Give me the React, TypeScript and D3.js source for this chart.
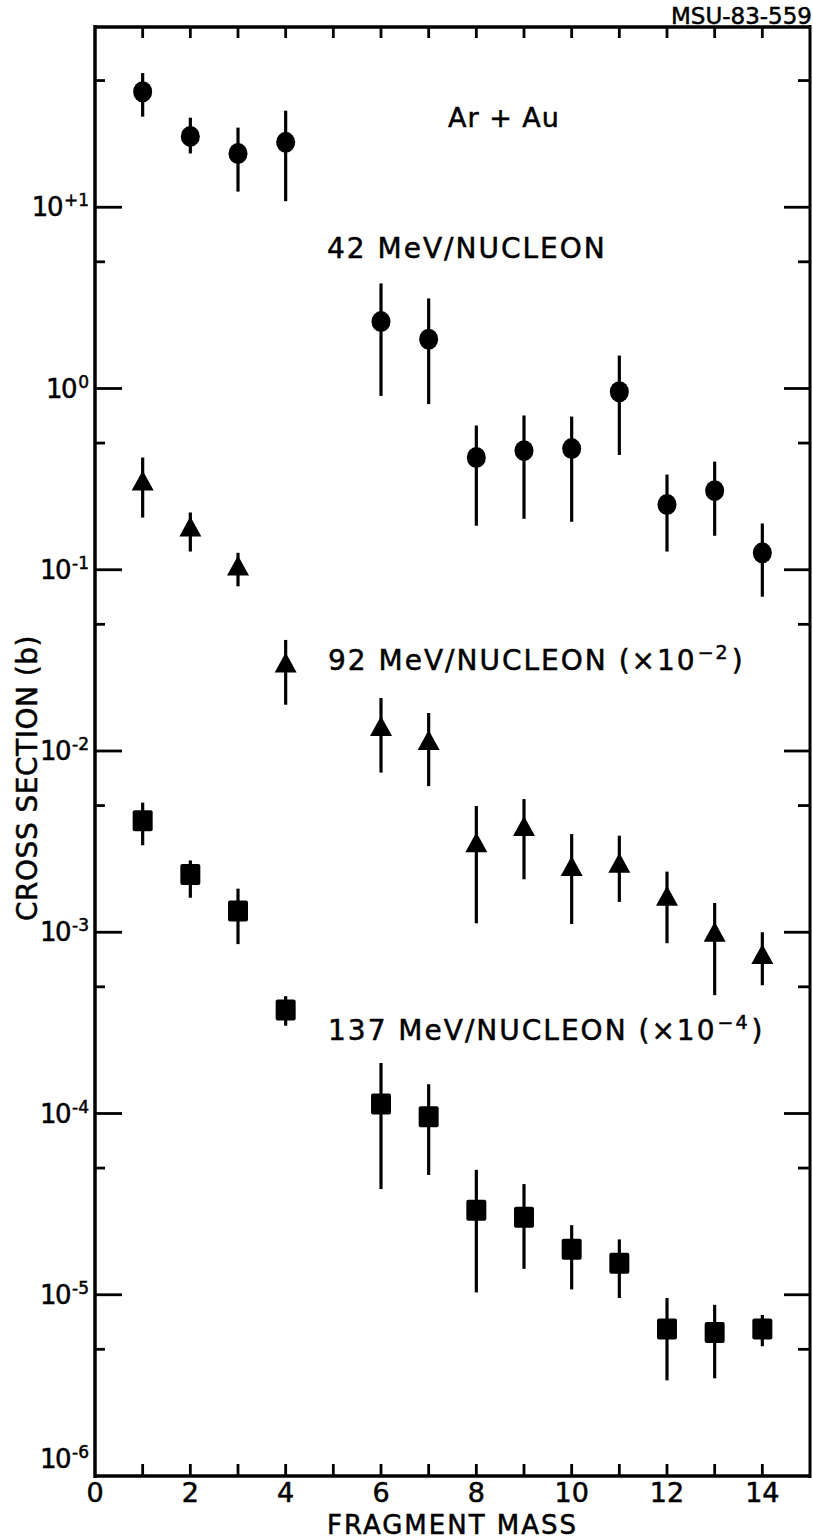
import React from "react";
import * as d3 from "d3";

// fragment masses measured (no point at mass 5)
const masses = [1, 2, 3, 4, 6, 7, 8, 9, 10, 11, 12, 13, 14];

// 42 MeV/nucleon, circles (barns)
const sigma42 = [43.4, 24.6, 19.8, 22.8, 2.34, 1.87, 0.416, 0.454, 0.466, 0.96, 0.229, 0.273, 0.124];
const sigma42Hi = [55, 31.2, 27.5, 34.1, 3.8, 3.14, 0.625, 0.71, 0.7, 1.52, 0.335, 0.395, 0.18];
const sigma42Lo = [31.6, 19.8, 12.2, 10.8, 0.91, 0.82, 0.175, 0.191, 0.184, 0.43, 0.126, 0.154, 0.071];

// 92 MeV/nucleon (x10^-2), triangles
const sigma92 = [0.303, 0.169, 0.103, 0.03, 0.0134, 0.0112, 0.00306, 0.00376, 0.00226, 0.00236, 0.00155, 0.00098, 0.00074];
const sigma92Hi = [0.416, 0.207, 0.124, 0.041, 0.0196, 0.0162, 0.00497, 0.00543, 0.00348, 0.00341, 0.00216, 0.00145, 0.001];
const sigma92Lo = [0.194, 0.126, 0.081, 0.018, 0.0076, 0.0064, 0.00112, 0.00196, 0.00111, 0.00147, 0.00087, 0.00045, 0.00051];

// 137 MeV/nucleon (x10^-4), squares
const sigma137 = [0.00412, 0.00208, 0.00131, 0.000372, 1.13e-4, 9.6e-5, 2.93e-5, 2.68e-5, 1.78e-5, 1.49e-5, 6.47e-6, 6.2e-6, 6.47e-6];
const sigma137Hi = [0.00519, 0.00249, 0.00174, 0.000444, 1.9e-4, 1.45e-4, 4.89e-5, 4.08e-5, 2.42e-5, 2.02e-5, 9.6e-6, 8.8e-6, 7.74e-6];
const sigma137Lo = [0.00302, 0.00155, 0.00086, 0.000305, 3.83e-5, 4.58e-5, 1.03e-5, 1.39e-5, 1.07e-5, 9.6e-6, 3.37e-6, 3.46e-6, 5.2e-6];

// axis ticks
const xTickLabels = [0, 2, 4, 6, 8, 10, 12, 14];
const xMinorTicks = [1, 2, 3, 4, 5, 6, 7, 8, 9, 10, 11, 12, 13, 14];
const yExponents = [1, 0, -1, -2, -3, -4, -5, -6];
const yExpLabels = ["+1", "0", "-1", "-2", "-3", "-4", "-5", "-6"];

const W = 813, H = 1540;
const left = 95, right = 810, top = 27, bottom = 1476;
const font = "'DejaVu Sans', sans-serif";

export default function App() {
  const x = d3.scaleLinear().domain([0, 15]).range([left, right]);
  const y = d3.scaleLog().domain([1e-6, 1e2]).range([bottom, 26]);

  const majors = yExponents.map(e => Math.pow(10, e));
  const minors = d3.range(-6, 2).map(e => 5 * Math.pow(10, e));

  const series = [
    { kind: "circle", v: sigma42, hi: sigma42Hi, lo: sigma42Lo },
    { kind: "triangle", v: sigma92, hi: sigma92Hi, lo: sigma92Lo },
    { kind: "square", v: sigma137, hi: sigma137Hi, lo: sigma137Lo },
  ];

  const marker = (kind: string, cx: number, cy: number, key: string) => {
    if (kind === "circle") return <ellipse key={key} cx={cx} cy={cy} rx={9.5} ry={10.5} fill="#000" />;
    if (kind === "triangle")
      return <path key={key} d={`M${cx},${cy - 12}L${cx + 11},${cy + 8}L${cx - 11},${cy + 8}Z`} fill="#000" />;
    return <rect key={key} x={cx - 10} y={cy - 10.5} width={20} height={21} rx={2} fill="#000" />;
  };

  const textStyle = { fontFamily: font, fill: "#000", stroke: "#000", strokeWidth: 0.5 };

  return (
    <svg width={W} height={H} style={{ position: "absolute", left: 0, top: 0, background: "#fff" }}>
      {/* frame */}
      <g stroke="#000" fill="none">
        <line x1={left} x2={left} y1={top - 2} y2={bottom + 2} strokeWidth={3.5} />
        <line x1={right} x2={right} y1={top - 2} y2={bottom + 2} strokeWidth={3} />
        <line x1={left - 1} x2={right + 1} y1={top} y2={top} strokeWidth={3.5} />
        <line x1={left - 1} x2={right + 1} y1={bottom} y2={bottom} strokeWidth={3.5} />
      </g>

      {/* x ticks top and bottom */}
      <g stroke="#000" strokeWidth={2.8}>
        {xMinorTicks.map(t => (
          <g key={"xt" + t}>
            <line x1={x(t)} x2={x(t)} y1={bottom} y2={bottom - 12} />
            <line x1={x(t)} x2={x(t)} y1={top} y2={top + 11} />
          </g>
        ))}
      </g>

      {/* y ticks left and right */}
      <g stroke="#000" strokeWidth={2.8}>
        {majors.filter(v => v > 1e-6).map(v => (
          <g key={"ym" + v}>
            <line x1={left} x2={left + 27} y1={y(v)} y2={y(v)} />
            <line x1={right} x2={right - 26} y1={y(v)} y2={y(v)} />
          </g>
        ))}
        {minors.map(v => (
          <g key={"yn" + v}>
            <line x1={left} x2={left + 10} y1={y(v)} y2={y(v)} />
            <line x1={right} x2={right - 12} y1={y(v)} y2={y(v)} />
          </g>
        ))}
      </g>

      {/* x tick labels */}
      {xTickLabels.map(t => (
        <text key={"xl" + t} x={x(t)} y={1502} textAnchor="middle" fontSize={27} style={textStyle}>
          {t}
        </text>
      ))}
      <text x={(left + right) / 2} y={1534} textAnchor="middle" fontSize={26} letterSpacing={2} style={textStyle}>
        FRAGMENT MASS
      </text>

      {/* y tick labels */}
      {yExponents.map((e, i) => {
        const yy = y(Math.pow(10, e)) + (e === -6 ? -8 : 9);
        return (
          <text key={"yl" + e} x={89} y={yy} textAnchor="end" fontSize={26} style={textStyle}>
            <tspan letterSpacing={-1.5}>10</tspan>
            <tspan fontSize={17} dy={-10} dx={2}>{yExpLabels[i]}</tspan>
          </text>
        );
      })}
      <text
        transform={`translate(37,${778}) rotate(-90)`}
        textAnchor="middle"
        fontSize={28}
        letterSpacing={0.5}
        style={textStyle}
      >
        CROSS SECTION (b)
      </text>

      {/* error bars and markers */}
      {series.map(s => (
        <g key={s.kind}>
          {masses.map((m, i) => (
            <line key={"e" + m} x1={x(m)} x2={x(m)} y1={y(s.hi[i])} y2={y(s.lo[i])} stroke="#000" strokeWidth={3.2} />
          ))}
          {masses.map((m, i) => marker(s.kind, x(m), y(s.v[i]), s.kind + m))}
        </g>
      ))}

      {/* annotations */}
      <text x={812} y={24} textAnchor="end" fontSize={23} style={textStyle}>MSU-83-559</text>
      <text x={448} y={127} fontSize={27} letterSpacing={1} style={textStyle}>Ar + Au</text>
      <text x={327} y={258} fontSize={28} letterSpacing={2} style={textStyle}>42 MeV/NUCLEON</text>
      <text x={328} y={670} fontSize={28} letterSpacing={2} style={textStyle}>
        92 MeV/NUCLEON (×10<tspan fontSize={19} dy={-11} dx={1}>−2</tspan>
        <tspan dy={11} dx={2}>)</tspan>
      </text>
      <text x={328} y={1040} fontSize={28} letterSpacing={2} style={textStyle}>
        137 MeV/NUCLEON (×10<tspan fontSize={19} dy={-11} dx={1}>−4</tspan>
        <tspan dy={11} dx={2}>)</tspan>
      </text>
    </svg>
  );
}
